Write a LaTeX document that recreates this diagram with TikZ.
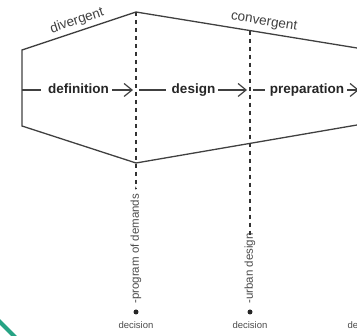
\documentclass[tikz,border=0pt]{standalone}
\usepackage{fontspec}
\setmainfont{Liberation Sans}
\usetikzlibrary{arrows.meta}
\definecolor{accent}{RGB}{38,163,132}

\begin{document}
\begin{tikzpicture}[
x=1pt, y=-1pt,
phase/.style={font=\fontsize{13.5}{14}\selectfont\bfseries, text=black!85,
    inner xsep=3pt, inner ysep=0pt, text height=10pt, text depth=3pt},
outline/.style={draw=black!75, line width=1.3pt},
flow/.style={draw=black!75, line width=1.2pt},
flowarrow/.style={flow, -{Straight Barb[length=8pt,width=13pt,line width=1.2pt]}},
milestone/.style={draw=black!80, line width=1.4pt, dash pattern=on 4pt off 4pt},
deliverable/.style={font=\fontsize{11.5}{12}\selectfont, text=black!70, rotate=90, inner sep=1pt},
decisionlabel/.style={font=\fontsize{9.5}{10}\selectfont, text=black!70, inner sep=1pt},
dot/.style={circle, fill=black!85, inner sep=0pt, minimum size=5pt},
phaselabel/.style={font=\fontsize{13.5}{14}\selectfont, text=black!75, inner sep=1pt},
]
\useasboundingbox (0,0) rectangle (357,336);
\clip (0,0) rectangle (357,336);

\coordinate (lt) at (22,50);
\coordinate (lb) at (22,126);
\coordinate (mt) at (136,12);
\coordinate (mb) at (136,163);
\coordinate (rt) at (400,55);
\coordinate (rb) at (400,117.6);
\coordinate (t2) at (250,30.6);
\draw[outline] (rt) -- (mt) -- (lt) -- (lb) -- (mb) -- (rb);

\node[phaselabel, rotate=18.4] (div) at (77,21) {divergent};
\node[phaselabel, rotate=-9.3] (conv) at (264,22) {convergent};

\coordinate (start) at (22,90);
\coordinate (m1) at (136,90);
\coordinate (m2) at (250,90);
\coordinate (m3) at (362,90);
\node[phase] (def) at (78.5,90) {definition};
\node[phase] (design) at (193.5,90) {design};
\node[phase] (prep) at (307,90) {preparation};

\draw[flow] (start) -- ([xshift=-4pt]def.west);
\draw[flowarrow] (def) -- ([xshift=-3pt]m1);
\draw[flow] ([xshift=3pt]m1) -- ([xshift=-3pt]design.west);
\draw[flowarrow] (design) -- ([xshift=-3pt]m2);
\draw[flow] ([xshift=3pt]m2) -- ([xshift=-2pt]prep.west);
\draw[flowarrow] (prep) -- ([xshift=-3pt]m3);

\node[dot] (d1) at (136,312) {};
\node[dot] (d2) at (250,312) {};
\node[deliverable, anchor=west] (pod) at (136,305) {-program of demands -};
\node[deliverable, anchor=west] (ud) at (250,305) {-urban design};
\draw[milestone] (mt) -- ([yshift=-3pt]pod.east);
\draw[milestone] (t2) -- ([yshift=-3pt]ud.east);
\node[decisionlabel] (dec1) at (136,325) {decision};
\node[decisionlabel] (dec2) at (250,325) {decision};
\node[decisionlabel] (dec3) at (365,325) {decision};

\draw[accent, line width=4pt] (-2,320) -- (16,338);
\end{tikzpicture}
\end{document}
